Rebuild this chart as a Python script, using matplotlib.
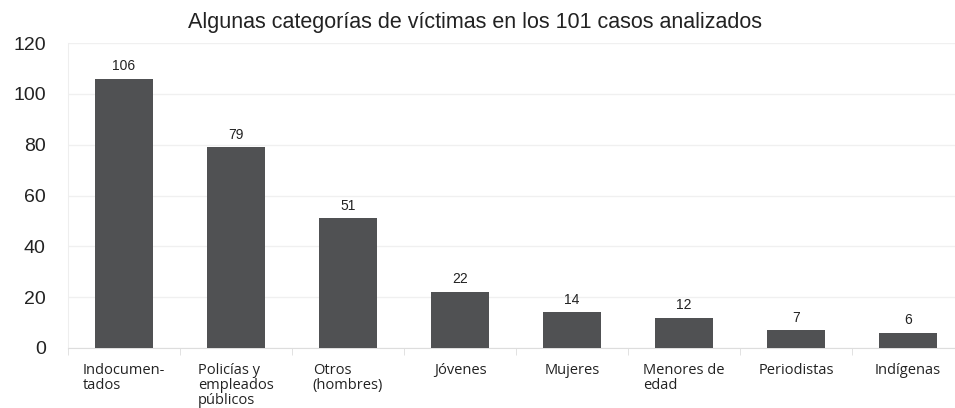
import numpy as np
import matplotlib.pyplot as plt

# Datos
categorias = ["Indocumen-\ntados", "Policías y\nempleados\npúblicos", "Otros\n(hombres)",
              "Jóvenes", "Mujeres", "Menores de\nedad", "Periodistas", "Indígenas"]
victimas = [106, 79, 51, 22, 14, 12, 7, 6]
yticks = [0, 20, 40, 60, 80, 100, 120]

fig = plt.figure(figsize=(9.55, 4.08), dpi=100)
ax = fig.add_axes([68/955, 60/408, 896/955, 305/408])

x = np.arange(len(categorias))
ax.bar(x, victimas, width=0.51, color="#505153", zorder=3)

for xi, v in zip(x, victimas):
    ax.text(xi, v + 2.2, str(v), ha="center", va="bottom", fontsize=10,
            family="Liberation Sans", color="#222222")

ax.set_xlim(-0.5, len(categorias) - 0.5)
ax.set_ylim(0, 120)
ax.set_yticks(yticks)
ax.set_yticklabels([str(t) for t in yticks], fontsize=14, family="Liberation Sans", color="#222222")
ax.tick_params(axis="y", length=0, pad=16)

# etiquetas de categoria
ax.set_xticks(x)
ax.set_xticklabels([])
ax.tick_params(axis="x", which="major", length=0)
ax.set_xticks(np.arange(len(categorias) + 1) - 0.5, minor=True)
ax.tick_params(axis="x", which="minor", length=5, color="#dddddd")
for xi, c in zip(x, categorias):
    ax.text(xi, -6, c, ha="center", va="top", multialignment="left",
            fontsize=10.5, family="Open Sans", color="#222222", linespacing=1.0)

ax.grid(axis="y", color="#f0f0f0", linewidth=1, zorder=0)
for s in ["top", "right"]:
    ax.spines[s].set_visible(False)
ax.spines["left"].set_color("#eeeeee")
ax.spines["bottom"].set_color("#dddddd")

fig.text(0.497, 0.945, "Algunas categorías de víctimas en los 101 casos analizados",
         ha="center", va="center", fontsize=15.5, family="Liberation Sans", color="#222222")

fig.savefig("out.png", dpi=100)
